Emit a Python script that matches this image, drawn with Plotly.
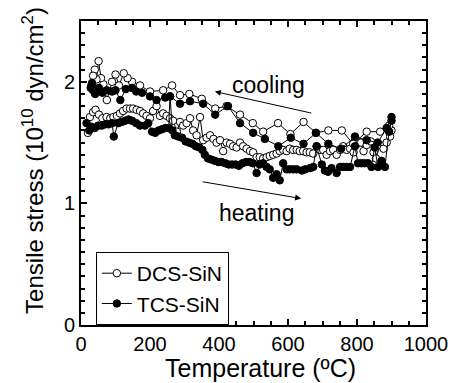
import plotly.graph_objects as go

# DCS-SiN (open circles): heating branch (ascending T) and cooling branch (descending T)
dcs_heat_T = [20, 26, 35, 42, 52, 62, 74, 85, 94, 104, 113, 122, 132, 142, 151, 161, 171, 180, 190, 200,
              209, 219, 229, 238, 248, 258, 267, 278, 287, 296, 306, 316, 325, 335, 345, 354, 364, 374, 384, 393,
              403, 412, 422, 432, 441, 451, 461, 470, 480, 490, 499, 509, 518, 528, 538, 547, 557, 567, 576, 586,
              596, 605, 615, 625, 634, 644, 654, 663, 673, 683, 692, 702, 712, 722, 731, 741, 751, 760, 770, 780,
              790, 800, 812, 819, 828, 840, 848, 855, 867, 877, 886, 896]
dcs_heat_S = [1.58, 1.71, 1.75, 1.77, 1.73, 1.70, 1.71, 1.70, 1.71, 1.72, 1.74, 1.76, 1.78, 1.78, 1.78, 1.77, 1.76, 1.74, 1.72, 1.70,
              1.76, 1.80, 1.72, 1.74, 1.72, 1.70, 1.68, 1.59, 1.67, 1.64, 1.66, 1.70, 1.60, 1.56, 1.71, 1.52, 1.54, 1.56, 1.53, 1.50,
              1.52, 1.43, 1.50, 1.49, 1.47, 1.46, 1.50, 1.47, 1.45, 1.43, 1.42, 1.38, 1.38, 1.37, 1.38, 1.39, 1.40, 1.41, 1.43, 1.44,
              1.43, 1.45, 1.44, 1.44, 1.43, 1.43, 1.42, 1.42, 1.41, 1.47, 1.44, 1.44, 1.40, 1.43, 1.44, 1.40, 1.44, 1.47, 1.44, 1.45,
              1.42, 1.49, 1.50, 1.43, 1.48, 1.51, 1.42, 1.37, 1.48, 1.45, 1.50, 1.55]
dcs_cool_T = [900, 893, 867, 828, 789, 756, 717, 681, 645, 607, 571, 528, 498, 461, 422, 389, 350, 314, 287, 264,
              238, 200, 171, 148, 135, 124, 110, 100, 90, 75, 65, 58, 51, 45, 40, 35, 30]
dcs_cool_S = [1.60, 1.64, 1.59, 1.59, 1.49, 1.60, 1.60, 1.58, 1.67, 1.57, 1.66, 1.59, 1.66, 1.73, 1.80, 1.78, 1.86, 1.90, 1.89, 1.97,
              1.93, 1.92, 1.97, 2.00, 2.03, 2.07, 1.97, 2.06, 2.00, 1.85, 1.98, 2.03, 2.17, 2.02, 2.10, 2.05, 1.97]

# TCS-SiN (filled circles)
tcs_heat_T = [16, 24, 31, 40, 50, 60, 70, 80, 90, 95, 108, 118, 128, 138, 148, 160, 171, 185, 195, 206,
              215, 225, 235, 245, 254, 258, 265, 272, 282, 293, 303, 313, 323, 333, 343, 352, 359, 368, 378, 388,
              398, 408, 418, 428, 438, 448, 458, 468, 478, 488, 498, 509, 518, 528, 538, 547, 557, 567, 576, 586,
              596, 605, 615, 625, 640, 650, 664, 673, 683, 698, 707, 716, 726, 741, 751, 760, 770, 780, 794, 803,
              813, 822, 832, 842, 851, 861, 871, 881, 893, 900]
tcs_heat_S = [1.66, 1.60, 1.63, 1.62, 1.64, 1.64, 1.65, 1.65, 1.66, 1.55, 1.66, 1.67, 1.68, 1.69, 1.68, 1.66, 1.64, 1.64, 1.66, 1.59,
              1.58, 1.60, 1.61, 1.62, 1.62, 1.88, 1.60, 1.56, 1.55, 1.54, 1.51, 1.50, 1.49, 1.47, 1.46, 1.44, 1.40, 1.37, 1.36, 1.35,
              1.34, 1.34, 1.33, 1.32, 1.32, 1.32, 1.31, 1.33, 1.34, 1.34, 1.33, 1.25, 1.32, 1.33, 1.30, 1.28, 1.21, 1.24, 1.19, 1.33,
              1.28, 1.28, 1.28, 1.28, 1.27, 1.28, 1.29, 1.30, 1.47, 1.32, 1.27, 1.26, 1.29, 1.25, 1.30, 1.30, 1.30, 1.30, 1.47, 1.33,
              1.33, 1.33, 1.33, 1.30, 1.46, 1.30, 1.35, 1.30, 1.59, 1.68]
tcs_cool_T = [900, 886, 860, 828, 794, 754, 717, 681, 645, 608, 572, 533, 499, 461, 426, 389, 354, 316, 287, 258,
              244, 219, 200, 177, 160, 148, 130, 114, 100, 90, 75, 62, 52, 41, 35, 32, 28]
tcs_cool_S = [1.71, 1.62, 1.50, 1.52, 1.55, 1.45, 1.49, 1.58, 1.49, 1.54, 1.47, 1.53, 1.58, 1.66, 1.80, 1.73, 1.82, 1.84, 1.82, 1.88,
              1.87, 1.85, 1.88, 1.91, 1.92, 1.95, 1.94, 1.85, 1.93, 1.92, 1.93, 1.91, 1.95, 1.90, 1.93, 1.99, 1.95]

x_ticks = [0, 200, 400, 600, 800, 1000]
y_ticks = [0, 1, 2]
x_title = "Temperature (ºC)"
y_title = "Tensile stress (10<sup>10</sup> dyn/cm<sup>2</sup>)"

FONT = "Liberation Sans, Arial, sans-serif"

fig = go.Figure()
fig.add_trace(go.Scatter(
    x=dcs_heat_T + dcs_cool_T, y=dcs_heat_S + dcs_cool_S, mode="lines+markers", name="DCS-SiN",
    line=dict(color="black", width=1),
    marker=dict(symbol="circle", size=7.5, color="white", line=dict(color="black", width=1)),
))
fig.add_trace(go.Scatter(
    x=tcs_heat_T + tcs_cool_T, y=tcs_heat_S + tcs_cool_S, mode="lines+markers", name="TCS-SiN",
    line=dict(color="black", width=1),
    marker=dict(symbol="circle", size=7.5, color="black", line=dict(color="black", width=1)),
))

# direction arrows and labels
fig.add_annotation(x=388, y=1.92, ax=672, ay=1.74, xref="x", yref="y", axref="x", ayref="y",
                   text="", showarrow=True, arrowhead=2, arrowsize=1.2, arrowwidth=1, arrowcolor="black")
fig.add_annotation(x=638, y=1.04, ax=348, ay=1.18, xref="x", yref="y", axref="x", ayref="y",
                   text="", showarrow=True, arrowhead=2, arrowsize=1.2, arrowwidth=1, arrowcolor="black")
fig.add_annotation(x=543, y=1.97, xref="x", yref="y", text="cooling", showarrow=False,
                   font=dict(family=FONT, size=23, color="black"))
fig.add_annotation(x=510, y=0.92, xref="x", yref="y", text="heating", showarrow=False,
                   font=dict(family=FONT, size=23, color="black"))

# axis titles
fig.add_annotation(x=0.519, y=-0.142, xref="paper", yref="paper", text=x_title, showarrow=False,
                   xanchor="center", yanchor="middle", font=dict(family=FONT, size=25, color="black"))
fig.add_annotation(x=-0.139, y=0.54, xref="paper", yref="paper", text=y_title, showarrow=False,
                   textangle=-90, xanchor="center", yanchor="middle",
                   font=dict(family=FONT, size=24, color="black"))

axis_common = dict(
    showline=True, linecolor="black", linewidth=2, mirror="allticks",
    ticks="inside", ticklen=6, tickwidth=1.5, tickcolor="black",
    showgrid=False, zeroline=False, automargin=False,
    tickfont=dict(family=FONT, size=20, color="black"),
)

fig.update_xaxes(**axis_common, range=[0, 1000], tickvals=x_ticks,
                 minor=dict(dtick=50, ticks="inside", ticklen=4, tickcolor="black", tickwidth=1.5))
fig.update_yaxes(**axis_common, range=[0, 2.5], tickvals=y_ticks,
                 minor=dict(dtick=0.1, ticks="inside", ticklen=4, tickcolor="black", tickwidth=1.5))

fig.update_layout(
    width=456, height=383,
    margin=dict(l=81, r=30, t=21, b=58),
    paper_bgcolor="white", plot_bgcolor="white",
    showlegend=True,
    legend=dict(x=0.043, y=0.24, xanchor="left", yanchor="top",
                bordercolor="black", borderwidth=1, bgcolor="white",
                font=dict(family=FONT, size=21, color="black"),
                tracegroupgap=0, itemwidth=30),
)

fig.write_html("out.html")
